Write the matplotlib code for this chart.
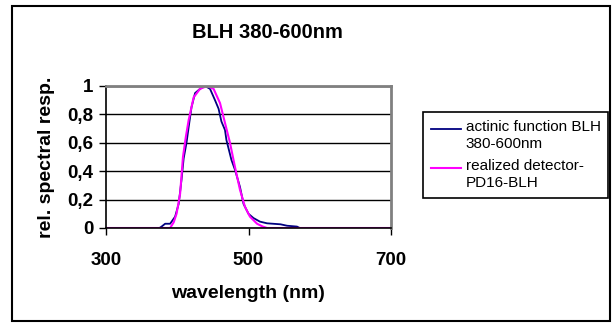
import matplotlib.pyplot as plt
from matplotlib.patches import Rectangle
from matplotlib.lines import Line2D
from matplotlib.legend_handler import HandlerLine2D

plt.rcParams['font.family'] = ['Liberation Sans', 'DejaVu Sans']

# actinic function BLH 380-600nm
wl_blh = [300, 375, 378, 383, 390, 397, 402, 406, 409, 413, 416, 420, 425, 432, 439,
          446, 453, 458, 462, 467, 469, 476, 481, 488, 493, 500, 507, 516, 526, 545,
          554, 568, 572, 700]
resp_blh = [0, 0, 0.01, 0.03, 0.03, 0.08, 0.17, 0.34, 0.49, 0.6, 0.71, 0.85, 0.95, 0.98, 1.0,
            0.98, 0.9, 0.84, 0.75, 0.69, 0.62, 0.48, 0.41, 0.29, 0.17, 0.1, 0.07, 0.045, 0.033, 0.026,
            0.016, 0.01, 0, 0]

# realized detector PD16-BLH
wl_det = [300, 390, 395, 399, 404, 408, 412, 416, 423, 432, 442, 451, 460, 467, 474,
          481, 488, 495, 502, 512, 520, 526, 700]
resp_det = [0, 0, 0.04, 0.1, 0.24, 0.5, 0.64, 0.76, 0.92, 0.98, 1.0, 0.98, 0.88, 0.74, 0.6,
            0.43, 0.27, 0.15, 0.08, 0.03, 0.01, 0, 0]


class TopLineHandler(HandlerLine2D):
    # put the legend line next to the first text line, like excel does
    def create_artists(self, legend, orig_handle, xdescent, ydescent,
                       width, height, fontsize, trans):
        return super().create_artists(legend, orig_handle, xdescent,
                                      ydescent - 0.85 * fontsize, width, height,
                                      fontsize, trans)


fig = plt.figure(figsize=(6.12, 3.23), dpi=100)
ax = fig.add_axes([106 / 612, 1 - 228 / 323, 285 / 612, 142 / 323])

ax.plot(wl_blh, resp_blh, color='#000080', lw=1.3, label='actinic function BLH\n380-600nm')
ax.plot(wl_det, resp_det, color='#FF00FF', lw=1.5, label='realized detector-\nPD16-BLH')

ax.set_xlim(300, 700)
ax.set_ylim(0, 1)
ax.set_xticks([300, 500, 700])
ax.set_yticks([0, 0.2, 0.4, 0.6, 0.8, 1])
ax.set_yticklabels(['0', '0,2', '0,4', '0,6', '0,8', '1'])
ax.grid(axis='y', color='black', lw=1)
ax.set_axisbelow(True)
ax.tick_params(labelsize=13.5, width=1, length=5, colors='black')
for lab in ax.get_xticklabels() + ax.get_yticklabels():
    lab.set_fontweight('bold')
ax.tick_params(axis='x', pad=12)
ax.tick_params(axis='y', pad=4)

for s in ['top', 'right']:
    ax.spines[s].set_color('#808080')
    ax.spines[s].set_linewidth(2)
for s in ['left', 'bottom']:
    ax.spines[s].set_color('black')
    ax.spines[s].set_linewidth(1.2)

ax.set_xlabel('wavelength (nm)', fontsize=14, fontweight='bold', labelpad=12)
ax.set_ylabel('rel. spectral resp.', fontsize=14, fontweight='bold', labelpad=9)

fig.text(267 / 612, 1 - 32 / 323, 'BLH 380-600nm', ha='center', va='center',
         fontsize=14.5, fontweight='bold')

leg = ax.legend(loc='upper left', bbox_to_anchor=(423 / 612, 1 - 112 / 323),
                bbox_transform=fig.transFigure, fontsize=11, frameon=True,
                fancybox=False, edgecolor='black', framealpha=1, borderpad=0.5,
                handlelength=2.0, handletextpad=0.3, labelspacing=0.5,
                borderaxespad=0, handler_map={Line2D: TopLineHandler()})
leg.get_frame().set_linewidth(1.2)
for t in leg.get_texts():
    t.set_linespacing(1.3)

fig.patches.append(Rectangle((12 / 612, 1 - 321 / 323), 598 / 612, 315 / 323,
                             transform=fig.transFigure, fill=False,
                             edgecolor='black', lw=1.5))

fig.savefig('out.png', dpi=100)
